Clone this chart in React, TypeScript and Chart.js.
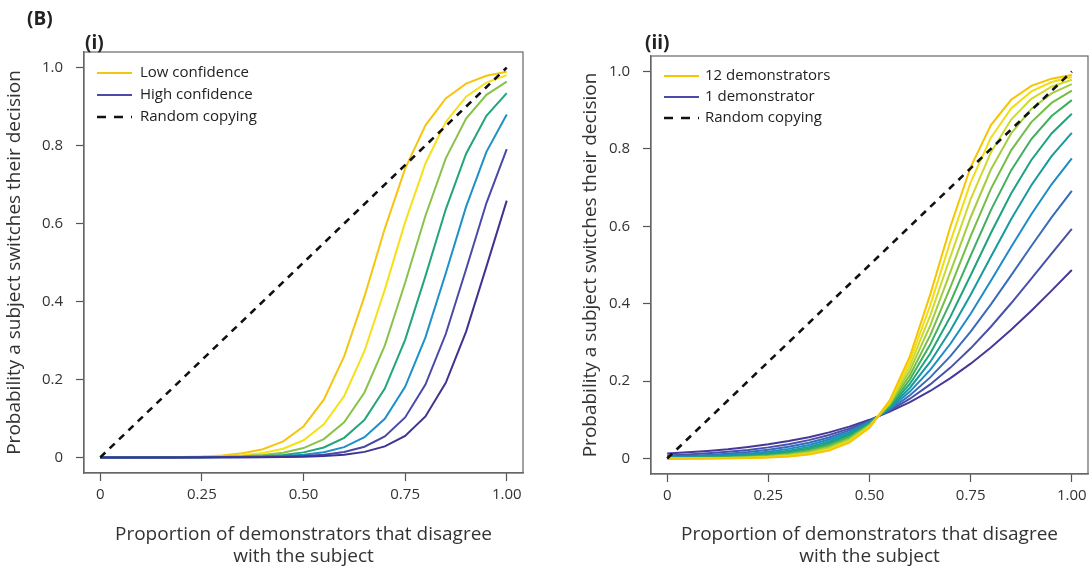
import React, { useEffect, useRef } from 'react';
import { Chart, registerables } from 'chart.js';

Chart.register(...registerables);

const FONT = '"Open Sans", Lato, sans-serif';

// Shared x grid (proportion of demonstrators that disagree)
const xValues = [0, 0.05, 0.1, 0.15, 0.2, 0.25, 0.3, 0.35, 0.4, 0.45, 0.5, 0.55, 0.6, 0.65, 0.7, 0.75, 0.8, 0.85, 0.9, 0.95, 1];

const xTickValues = [0, 0.25, 0.5, 0.75, 1];
const xTickLabels = ['0', '0.25', '0.50', '0.75', '1.00'];
const yTickValues = [0, 0.2, 0.4, 0.6, 0.8, 1];
const yTickLabels = ['0', '0.2', '0.4', '0.6', '0.8', '1.0'];

const xTitle = ['Proportion of demonstrators that disagree', 'with the subject'];
const yTitle = 'Probability a subject switches their decision';

// Random copying reference line
const randomX = [0, 1];
const randomY = [0, 1];

// Panel (i): confidence levels, low -> high
const confLevel1 = [0.0001, 0.0002, 0.0003, 0.0006, 0.0013, 0.0026, 0.0052, 0.0105, 0.0208, 0.0411, 0.0794, 0.148, 0.259, 0.413, 0.587, 0.741, 0.852, 0.921, 0.959, 0.979, 0.9895];
const confLevel2 = [0, 0.0001, 0.0002, 0.0003, 0.0007, 0.0014, 0.0028, 0.0056, 0.0112, 0.0223, 0.0439, 0.0847, 0.157, 0.273, 0.4305, 0.6035, 0.754, 0.8606, 0.9255, 0.9616, 0.9806];
const confLevel3 = [0, 0, 0.0001, 0.0002, 0.0004, 0.0007, 0.0015, 0.003, 0.006, 0.012, 0.0239, 0.047, 0.0903, 0.1666, 0.287, 0.448, 0.62, 0.767, 0.869, 0.93, 0.964];
const confLevel4 = [0, 0, 0, 0.0001, 0.0002, 0.0004, 0.0008, 0.0016, 0.0032, 0.0064, 0.0129, 0.0256, 0.0502, 0.0962, 0.1765, 0.3016, 0.465, 0.6365, 0.779, 0.8765, 0.9347];
const confLevel5 = [0, 0, 0, 0, 0.0001, 0.0002, 0.0004, 0.0008, 0.0016, 0.0033, 0.0066, 0.0133, 0.0263, 0.0517, 0.0989, 0.181, 0.3079, 0.4725, 0.6434, 0.784, 0.8797];
const confLevel6 = [0, 0, 0, 0, 0, 0.0001, 0.0002, 0.0004, 0.0009, 0.0017, 0.0034, 0.0069, 0.0138, 0.0274, 0.0536, 0.1025, 0.187, 0.3165, 0.4825, 0.6525, 0.791];
const confLevel7 = [0, 0, 0, 0, 0, 0, 0.0001, 0.0002, 0.0004, 0.0009, 0.0018, 0.0035, 0.0071, 0.0142, 0.0282, 0.0551, 0.105, 0.1912, 0.3226, 0.4895, 0.6588];
const confSeries = [confLevel1, confLevel2, confLevel3, confLevel4, confLevel5, confLevel6, confLevel7];
const confColors = ['#F5C50F', '#F5E11A', '#88C24B', '#22A57A', '#1E90C8', '#4A4AA6', '#3E3391'];

// Panel (ii): number of demonstrators, 1 -> 12
const demo1 = [0.0128, 0.0159, 0.0196, 0.0241, 0.0298, 0.0366, 0.045, 0.0551, 0.0675, 0.0823, 0.1, 0.121, 0.1458, 0.1745, 0.2077, 0.2451, 0.287, 0.3327, 0.382, 0.4337, 0.487];
const demo2 = [0.008, 0.0104, 0.0134, 0.0173, 0.0223, 0.0288, 0.037, 0.0475, 0.0607, 0.0773, 0.098, 0.1235, 0.1545, 0.1914, 0.2349, 0.2847, 0.3405, 0.4011, 0.4646, 0.5295, 0.5934];
const demo3 = [0.005, 0.0068, 0.0092, 0.0124, 0.0167, 0.0226, 0.0304, 0.0408, 0.0545, 0.0726, 0.096, 0.126, 0.1635, 0.2096, 0.2645, 0.328, 0.3983, 0.4732, 0.5492, 0.623, 0.6916];
const demo4 = [0.0031, 0.0044, 0.0063, 0.0089, 0.0125, 0.0177, 0.0249, 0.035, 0.049, 0.0682, 0.094, 0.1285, 0.1729, 0.229, 0.2965, 0.3742, 0.4593, 0.5466, 0.6311, 0.7085, 0.7752];
const demo5 = [0.0019, 0.0029, 0.0043, 0.0063, 0.0094, 0.0139, 0.0204, 0.0301, 0.044, 0.064, 0.0921, 0.131, 0.1829, 0.2495, 0.3305, 0.4231, 0.5212, 0.618, 0.706, 0.7811, 0.8412];
const demo6 = [0.0012, 0.0019, 0.0029, 0.0045, 0.007, 0.0108, 0.0167, 0.0258, 0.0395, 0.06, 0.0903, 0.1336, 0.1933, 0.2713, 0.3666, 0.4735, 0.5827, 0.6846, 0.7714, 0.8398, 0.8907];
const demo7 = [0.0008, 0.0012, 0.002, 0.0032, 0.0052, 0.0085, 0.0137, 0.0221, 0.0354, 0.0563, 0.0884, 0.1362, 0.2041, 0.2943, 0.404, 0.5242, 0.6418, 0.7444, 0.8256, 0.885, 0.926];
const demo8 = [0.0005, 0.0008, 0.0013, 0.0023, 0.0039, 0.0066, 0.0112, 0.0189, 0.0317, 0.0528, 0.0866, 0.139, 0.2154, 0.3182, 0.4427, 0.5747, 0.6968, 0.7962, 0.8693, 0.9188, 0.9506];
const demo9 = [0.0003, 0.0005, 0.0009, 0.0016, 0.0029, 0.0052, 0.0092, 0.0162, 0.0284, 0.0495, 0.0848, 0.1417, 0.2271, 0.3432, 0.482, 0.6234, 0.7467, 0.8398, 0.9033, 0.9432, 0.9673];
const demo10 = [0.0002, 0.0003, 0.0006, 0.0012, 0.0022, 0.004, 0.0075, 0.0138, 0.0255, 0.0464, 0.0831, 0.1444, 0.2392, 0.3691, 0.5215, 0.67, 0.7908, 0.8757, 0.9292, 0.9606, 0.9785];
const demo11 = [0.0001, 0.0002, 0.0004, 0.0008, 0.0016, 0.0031, 0.0061, 0.0118, 0.0228, 0.0435, 0.0814, 0.1472, 0.2516, 0.3958, 0.5609, 0.7134, 0.829, 0.9043, 0.9485, 0.9729, 0.9859];
const demo12 = [0.0001, 0.0001, 0.0003, 0.0006, 0.0012, 0.0025, 0.005, 0.0101, 0.0204, 0.0408, 0.0797, 0.1501, 0.2646, 0.4234, 0.5994, 0.7531, 0.8616, 0.9269, 0.9627, 0.9814, 0.9908];
const demoSeries = [demo1, demo2, demo3, demo4, demo5, demo6, demo7, demo8, demo9, demo10, demo11, demo12];
const demoColors = ['#45389A', '#4950A9', '#3A6BB8', '#1D8CC6', '#189A9E', '#1CA47C', '#3EAF5E', '#74BE48', '#A5CE3C', '#CFDA2C', '#F2DD14', '#F6C400'];

const legendI = [
  { label: 'Low confidence', color: confColors[0], dash: null as number[] | null },
  { label: 'High confidence', color: '#4A4AA8', dash: null as number[] | null },
  { label: 'Random copying', color: '#111', dash: [9, 8] },
];
const legendII = [
  { label: '12 demonstrators', color: demoColors[11], dash: null as number[] | null },
  { label: '1 demonstrator', color: '#4A4AA8', dash: null as number[] | null },
  { label: 'Random copying', color: '#111', dash: [9, 8] },
];

function buildDatasets(series: number[][], colors: string[], purpleOnTop: boolean) {
  const ds: any[] = [
    {
      data: randomX.map((x, i) => ({ x, y: randomY[i] })),
      borderColor: '#111',
      borderWidth: 2.6,
      borderDash: [7, 6],
      pointRadius: 0,
      fill: false,
    },
  ];
  const order = series.map((_, i) => i);
  const sorted = purpleOnTop ? order.slice().reverse() : order;
  sorted.forEach((idx) => {
    ds.push({
      data: xValues.map((x, i) => ({ x, y: series[idx][i] })),
      borderColor: colors[idx],
      borderWidth: 2,
      pointRadius: 0,
      fill: false,
      tension: 0,
    });
  });
  return ds;
}

type PanelProps = {
  series: number[][];
  colors: string[];
  purpleOnTop: boolean;
  legend: { label: string; color: string; dash: number[] | null }[];
  width: number;
  padLeft: number;
  padTop: number;
  padRight: number;
  yWidth: number;
  xHeight: number;
  legendRow0: number;
  legendStep: number;
  legendTextX: number;
};

function Panel(p: PanelProps) {
  const ref = useRef<HTMLCanvasElement | null>(null);
  useEffect(() => {
    if (!ref.current) return;
    const boxPlugin = {
      id: 'boxFrame',
      afterDraw(chart: any) {
        const { ctx, chartArea } = chart;
        ctx.save();
        ctx.strokeStyle = '#666';
        ctx.lineWidth = 1.2;
        ctx.strokeRect(chartArea.left, chartArea.top, chartArea.right - chartArea.left, chartArea.bottom - chartArea.top);
        ctx.restore();
      },
    };
    const legendPlugin = {
      id: 'inlineLegend',
      afterDraw(chart: any) {
        const { ctx, chartArea } = chart;
        ctx.save();
        p.legend.forEach((it, i) => {
          const y = chartArea.top + p.legendRow0 + i * p.legendStep;
          ctx.beginPath();
          ctx.strokeStyle = it.color;
          ctx.lineWidth = it.dash ? 2.6 : 2.2;
          ctx.setLineDash(it.dash || []);
          ctx.moveTo(chartArea.left + 13, y);
          ctx.lineTo(chartArea.left + 48, y);
          ctx.stroke();
          ctx.setLineDash([]);
          ctx.fillStyle = '#222';
          ctx.font = `15px ${FONT}`;
          ctx.textBaseline = 'middle';
          ctx.textAlign = 'left';
          ctx.fillText(it.label, chartArea.left + p.legendTextX, y);
        });
        ctx.restore();
      },
    };
    const chart = new Chart(ref.current, {
      type: 'line',
      data: { datasets: buildDatasets(p.series, p.colors, p.purpleOnTop) },
      options: {
        animation: false,
        responsive: false,
        layout: { padding: { left: p.padLeft, top: p.padTop, right: p.padRight, bottom: 0 } },
        plugins: { legend: { display: false }, tooltip: { enabled: false } },
        elements: { point: { radius: 0 } },
        scales: {
          x: {
            type: 'linear',
            min: -0.04,
            max: 1.04,
            afterBuildTicks: (s: any) => {
              s.ticks = xTickValues.map((v) => ({ value: v }));
            },
            afterFit: (s: any) => {
              s.height = p.xHeight;
              s.paddingLeft = 0;
              s.paddingRight = 0;
            },
            ticks: {
              autoSkip: false,
              maxRotation: 0,
              padding: 5,
              color: '#333',
              font: { family: FONT, size: 15 },
              callback: (v: any) => xTickLabels[xTickValues.indexOf(Number(v))],
            },
            grid: { display: true, drawOnChartArea: false, drawTicks: true, tickLength: 8, tickColor: '#555', tickWidth: 1.2 },
            border: { display: true, color: '#666', width: 1.2 },
            title: {
              display: true,
              text: xTitle,
              color: '#333',
              font: { family: FONT, size: 19, lineHeight: 1.16 },
              padding: { top: 0, bottom: 1 },
            },
          },
          y: {
            type: 'linear',
            min: -0.04,
            max: 1.04,
            afterBuildTicks: (s: any) => {
              s.ticks = yTickValues.map((v) => ({ value: v }));
            },
            afterFit: (s: any) => {
              s.width = p.yWidth;
            },
            ticks: {
              autoSkip: false,
              padding: 13,
              color: '#333',
              font: { family: FONT, size: 15 },
              callback: (v: any) => yTickLabels[yTickValues.indexOf(Number(v))],
            },
            grid: { display: true, drawOnChartArea: false, drawTicks: true, tickLength: 8, tickColor: '#555', tickWidth: 1.2 },
            border: { display: true, color: '#666', width: 1.2 },
            title: {
              display: true,
              text: yTitle,
              color: '#333',
              font: { family: FONT, size: 19, lineHeight: 1.16 },
              padding: { top: 4, bottom: 0 },
            },
          },
        },
      } as any,
      plugins: [boxPlugin, legendPlugin],
    });
    return () => chart.destroy();
  }, []);
  return <canvas ref={ref} width={p.width} height={569} style={{ width: p.width, height: 569, display: 'block' }} />;
}

const labelStyle: React.CSSProperties = {
  position: 'absolute',
  fontFamily: FONT,
  fontWeight: 700,
  fontSize: 19,
  lineHeight: '22px',
  color: '#222',
};

export default function App() {
  return (
    <div style={{ position: 'absolute', left: 0, top: 0, width: 1089, height: 569, background: '#fff', overflow: 'hidden' }}>
      <div style={{ position: 'absolute', left: 0, top: 0 }}>
        <Panel
          series={confSeries}
          colors={confColors}
          purpleOnTop={true}
          legend={legendI}
          width={545}
          padLeft={0}
          padTop={52}
          padRight={22}
          yWidth={84}
          xHeight={96}
          legendRow0={21}
          legendStep={22}
          legendTextX={56}
        />
      </div>
      <div style={{ position: 'absolute', left: 545, top: 0 }}>
        <Panel
          series={demoSeries}
          colors={demoColors}
          purpleOnTop={true}
          legend={legendII}
          width={544}
          padLeft={31}
          padTop={56}
          padRight={1}
          yWidth={75}
          xHeight={95}
          legendRow0={20}
          legendStep={21}
          legendTextX={54}
        />
      </div>
      <div style={{ ...labelStyle, left: 27, top: 7 }}>(B)</div>
      <div style={{ ...labelStyle, left: 85, top: 31 }}>(i)</div>
      <div style={{ ...labelStyle, left: 645, top: 31 }}>(ii)</div>
    </div>
  );
}
